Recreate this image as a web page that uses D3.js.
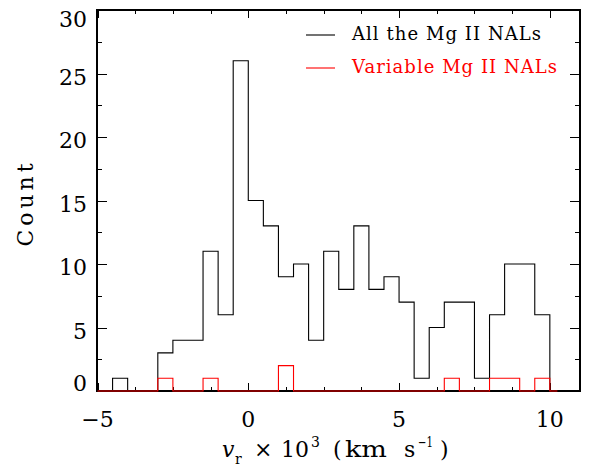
<!DOCTYPE html>
<html>
<head>
<meta charset="utf-8">
<script src="https://cdn.jsdelivr.net/npm/d3@7"></script>
<style>
  body { margin: 0; background: #fff; }
  text { font-family: "DejaVu Serif", serif; }
  .axis path { display: none; }
  .axis line { stroke: #000; shape-rendering: crispEdges; }
</style>
</head>
<body>
<div id="chart"></div>
<script>
// Histogram of Mg II NAL velocities (bins of 0.5 x 10^3 km/s)

// left edge of each bin
var binLo = [-5.0, -4.5, -4.0, -3.5, -3.0, -2.5, -2.0, -1.5, -1.0, -0.5,
              0.0,  0.5,  1.0,  1.5,  2.0,  2.5,  3.0,  3.5,  4.0,  4.5,
              5.0,  5.5,  6.0,  6.5,  7.0,  7.5,  8.0,  8.5,  9.0,  9.5, 10.0];
var allCounts = [0, 1, 0, 0, 3, 4, 4, 11, 6, 26,
                 15, 13, 9, 10, 4, 11, 8, 13, 8, 9,
                 7, 1, 5, 7, 7, 1, 6, 10, 10, 6, 0];
var varCounts = [0, 0, 0, 0, 1, 0, 0, 1, 0, 0,
                 0, 0, 2, 0, 0, 0, 0, 0, 0, 0,
                 0, 0, 0, 1, 0, 0, 1, 1, 0, 1, 0];
var binWidth = 0.5;

var xTicks = [-5, 0, 5, 10];
var xMinor = [-3.75, -2.5, -1.25, 1.25, 2.5, 3.75, 6.25, 7.5, 8.75, 11];
var yTicks = [0, 5, 10, 15, 20, 25, 30];
var yMinor = [2.5, 7.5, 12.5, 17.5, 22.5, 27.5];

var seriesNames = ["All the Mg II NALs", "Variable Mg II NALs"];
var colors = ["#000000", "#ff0000"];

var W = 594, H = 466;
var mLeft = 97, mRight = 580, mTop = 10, mBottom = 391;

var svg = d3.select("#chart").append("svg")
    .attr("width", W)
    .attr("height", H);

var x = d3.scaleLinear().domain([-5, 11]).range([mLeft + 0.5, mRight]);
var y = d3.scaleLinear().domain([0, 30]).range([mBottom, mTop]);

// clip so the histogram stays inside the frame
svg.append("clipPath").attr("id", "clip")
  .append("rect")
    .attr("x", mLeft).attr("y", mTop)
    .attr("width", mRight - mLeft).attr("height", mBottom - mTop + 1);

// ticks on all four sides (pointing inwards)
function ticks(axisFn, vals, size, tx, ty) {
  svg.append("g")
      .attr("class", "axis")
      .attr("transform", "translate(" + tx + "," + ty + ")")
      .call(axisFn.tickValues(vals).tickSize(size).tickFormat(""));
}
ticks(d3.axisBottom(x), xTicks, -8, 0, mBottom);
ticks(d3.axisBottom(x), xMinor, -4, 0, mBottom);
ticks(d3.axisTop(x), xTicks, -8, 0, mTop);
ticks(d3.axisTop(x), xMinor, -4, 0, mTop);
ticks(d3.axisLeft(y), yTicks, -10, mLeft, 0);
ticks(d3.axisLeft(y), yMinor, -5, mLeft, 0);
ticks(d3.axisRight(y), yTicks, -10, mRight, 0);
ticks(d3.axisRight(y), yMinor, -5, mRight, 0);

// frame
svg.append("rect")
    .attr("x", mLeft).attr("y", mTop)
    .attr("width", mRight - mLeft).attr("height", mBottom - mTop)
    .attr("fill", "none")
    .attr("stroke", "#000")
    .attr("stroke-width", 1.2)
    .style("shape-rendering", "crispEdges");

// step path, IDL psym=10 style: last bin only drawn to its centre
function stepPath(counts) {
  var pts = [];
  counts.forEach(function(c, i) {
    var x0 = binLo[i];
    var x1 = (i == counts.length - 1) ? x0 + binWidth / 2 : x0 + binWidth;
    pts.push([x(x0), y(c)]);
    pts.push([x(x1), y(c)]);
  });
  return d3.line()(pts);
}

// histograms drawn over the frame, red last
var plot = svg.append("g").attr("clip-path", "url(#clip)");
[allCounts, varCounts].forEach(function(counts, i) {
  plot.append("path")
      .attr("d", stepPath(counts))
      .attr("fill", "none")
      .attr("stroke", colors[i])
      .attr("stroke-width", 1.1);
});

// tick labels
svg.selectAll(".xlab")
    .data(xTicks)
    .enter().append("text")
    .attr("class", "xlab")
    .attr("x", function(d) { return x(d); })
    .attr("y", 427)
    .attr("text-anchor", "middle")
    .style("font-size", "22px")
    .text(function(d) { return d < 0 ? "\u2212" + Math.abs(d) : d; });

svg.selectAll(".ylab")
    .data(yTicks)
    .enter().append("text")
    .attr("class", "ylab")
    .attr("x", 87)
    .attr("y", function(d) {
      var c = Math.min(Math.max(y(d) + 2.5, mTop + 8.5), mBottom - 8.5);
      return c + 8.5;
    })
    .attr("text-anchor", "end")
    .style("font-size", "22px")
    .text(function(d) { return d; });

// y title
svg.append("text")
    .attr("transform", "translate(33,205) rotate(-90)")
    .attr("text-anchor", "middle")
    .attr("textLength", 83)
    .attr("lengthAdjust", "spacing")
    .style("font-size", "22px")
    .text("Count");

// x title: v_r x 10^3 (km s^-1)
var xt = [
  {t: "v", x: 222, y: 457, s: 22, it: true},
  {t: "r", x: 235, y: 464, s: 14},
  {t: "\u00d7", x: 254, y: 457, s: 22},
  {t: "10", x: 281, y: 457, s: 22},
  {t: "3", x: 311, y: 447, s: 14},
  {t: "(", x: 333, y: 457, s: 22},
  {t: "km", x: 345, y: 457, s: 22, len: 42},
  {t: "s", x: 404, y: 457, s: 22},
  {t: "\u22121", x: 418, y: 447, s: 14, len: 15},
  {t: ")", x: 440, y: 457, s: 22}
];
svg.selectAll(".xtitle")
    .data(xt)
    .enter().append("text")
    .attr("class", "xtitle")
    .attr("x", function(d) { return d.x; })
    .attr("y", function(d) { return d.y; })
    .attr("textLength", function(d) { return d.len || null; })
    .attr("lengthAdjust", "spacingAndGlyphs")
    .style("font-size", function(d) { return d.s + "px"; })
    .style("font-style", function(d) { return d.it ? "italic" : "normal"; })
    .text(function(d) { return d.t; });

// legend
var legend = svg.selectAll(".legend")
    .data(seriesNames)
    .enter().append("g")
    .attr("class", "legend")
    .attr("transform", function(d, i) { return "translate(0," + (35 + i * 33) + ")"; });
legend.append("line")
    .attr("x1", 306).attr("x2", 335)
    .attr("y1", 0).attr("y2", 0)
    .attr("stroke", function(d, i) { return colors[i]; })
    .attr("stroke-width", 1.1);
legend.append("text")
    .attr("x", 352)
    .attr("y", 5)
    .attr("textLength", function(d, i) { return i == 0 ? 189 : 205; })
    .attr("lengthAdjust", "spacing")
    .style("font-size", "18px")
    .style("fill", function(d, i) { return colors[i]; })
    .text(function(d) { return d; });
</script>
</body>
</html>
